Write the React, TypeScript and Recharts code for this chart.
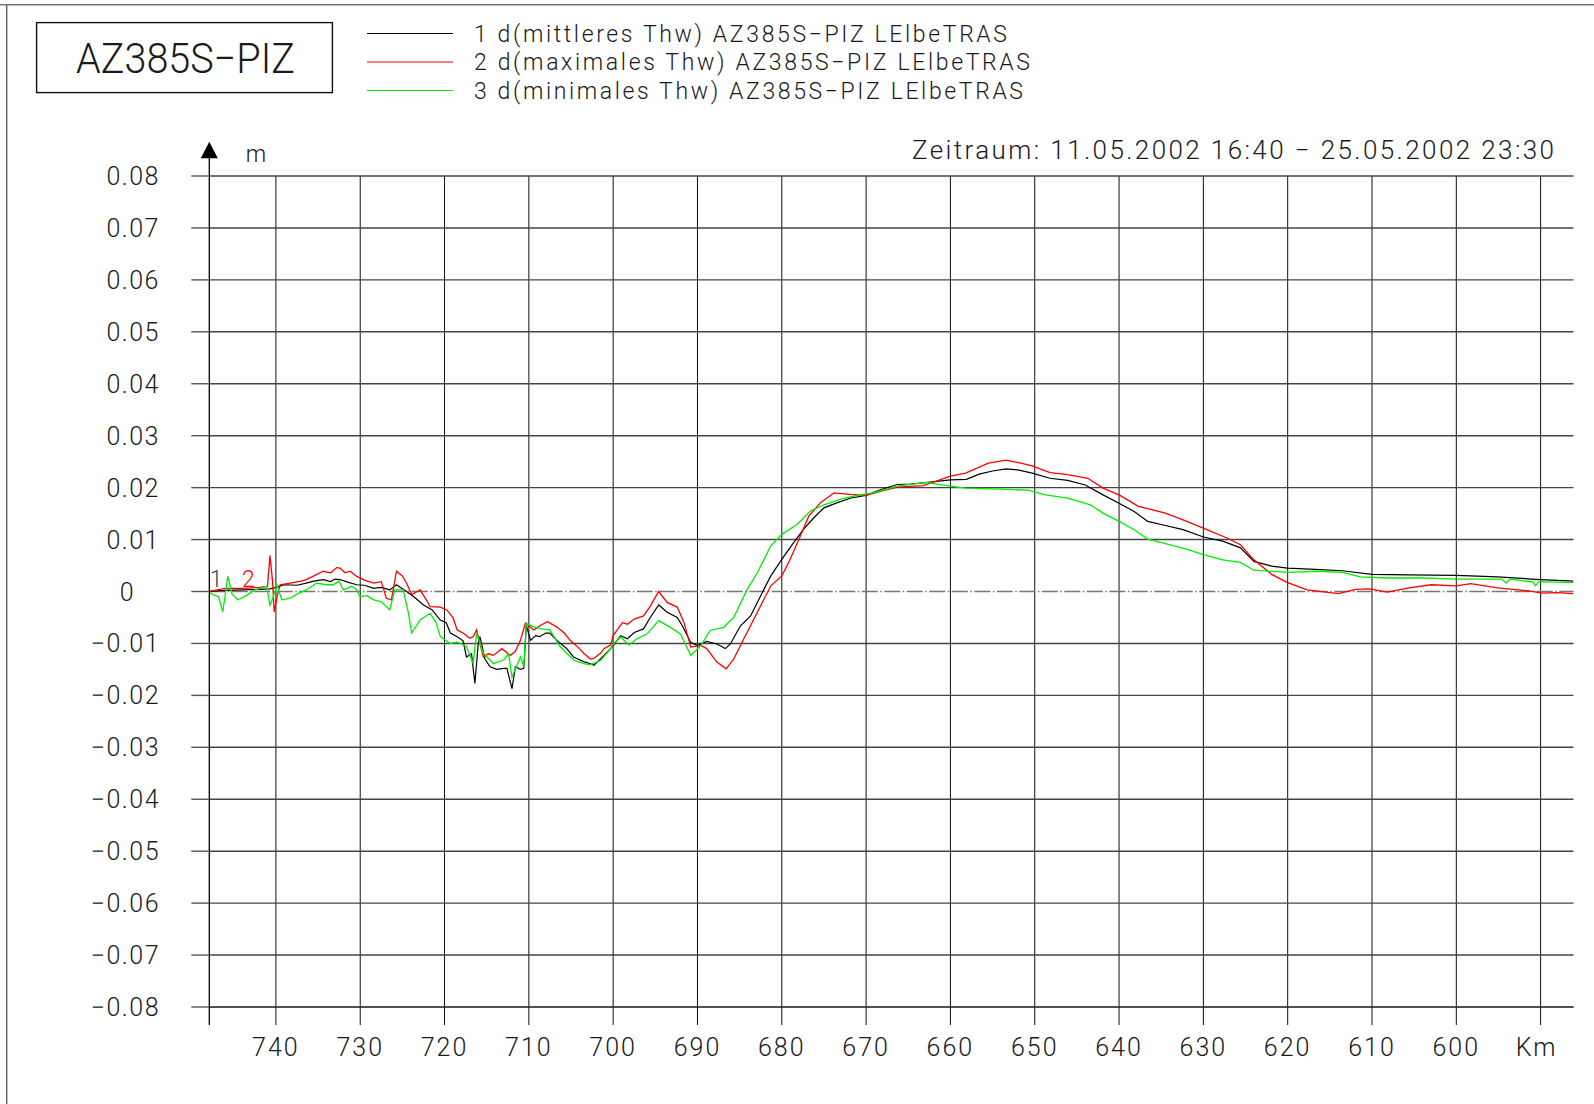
import React from "react";
import { LineChart, Line, XAxis, YAxis, CartesianGrid, ReferenceLine } from "recharts";

// ---- data (km along the Elbe, value in m) ----
const meanKm = [748.0,746.0,744.0,742.0,740.7,740.0,739.0,737.5,736.4,735.5,734.4,733.5,733.0,732.4,731.5,730.4,729.5,728.4,727.5,726.5,725.7,724.5,723.5,722.5,721.5,720.5,719.8,719.3,718.5,717.8,717.4,716.8,716.4,716.0,715.8,715.2,714.6,713.8,713.0,712.6,712.0,711.6,711.0,710.6,710.3,709.8,709.2,708.7,708.0,707.5,706.7,705.5,704.7,703.5,702.7,702.3,701.5,700.3,699.1,698.3,697.5,696.4,695.6,694.6,693.6,692.4,691.8,690.8,690.0,688.9,687.7,686.7,686.1,684.9,683.7,682.5,681.3,680.0,678.6,677.4,676.2,675.0,673.4,671.8,670.0,668.3,666.3,664.7,663.2,660.0,658.1,656.6,655.0,653.4,652.0,650.3,648.2,646.1,644.0,641.9,640.0,638.2,636.6,634.5,632.4,630.0,627.7,625.6,624.0,621.9,620.0,616.1,613.5,610.0,605.6,600.0,595.1,590.0,586.1];
const meanVal = [0,0.0002,0.0003,0.0004,0.0005,0.0008,0.0013,0.0012,0.0016,0.002,0.0023,0.0019,0.0024,0.0023,0.0018,0.0013,0.0012,0.0006,0.0008,0.0003,0.0013,0,-0.0012,-0.0026,-0.0035,-0.0055,-0.006,-0.008,-0.0087,-0.0095,-0.0126,-0.012,-0.0177,-0.01,-0.0087,-0.013,-0.0145,-0.015,-0.0148,-0.0148,-0.0187,-0.0145,-0.015,-0.0148,-0.0065,-0.0094,-0.0085,-0.0087,-0.008,-0.008,-0.0094,-0.011,-0.0126,-0.0135,-0.0139,-0.0142,-0.013,-0.011,-0.0085,-0.0091,-0.0079,-0.0072,-0.005,-0.0026,-0.004,-0.005,-0.0066,-0.0098,-0.0104,-0.0096,-0.0101,-0.011,-0.0101,-0.0066,-0.0047,-0.0008,0.003,0.0062,0.0094,0.012,0.0142,0.0161,0.0171,0.018,0.0185,0.0196,0.0206,0.0207,0.0209,0.0215,0.0216,0.0226,0.0232,0.0236,0.0234,0.0228,0.0218,0.0214,0.0205,0.0186,0.017,0.0154,0.0135,0.0127,0.0119,0.0105,0.0097,0.0084,0.0058,0.0049,0.0045,0.0042,0.004,0.0033,0.0032,0.0031,0.0028,0.0023,0.002];

const maxKm = [748.0,746.0,744.0,742.0,741.0,740.7,740.4,740.2,739.8,739.5,738.3,737.0,736.4,735.5,734.4,733.5,732.8,732.4,731.8,731.2,730.4,729.5,728.4,727.5,726.9,726.3,725.7,725.0,724.5,723.9,722.9,722.2,721.7,720.5,719.7,719.0,718.5,717.8,717.0,716.6,716.2,715.4,714.8,714.2,713.2,712.2,711.6,711.0,710.4,709.4,708.6,707.8,706.7,705.8,705.1,704.0,703.5,702.7,702.3,701.5,701.1,700.3,700.0,698.9,698.3,697.5,696.4,695.6,694.6,693.6,692.4,691.6,690.8,689.6,688.9,687.7,686.6,685.7,684.5,682.9,681.3,680.0,679.0,677.8,676.8,675.4,673.8,671.9,670.0,668.3,666.3,663.2,660.0,658.2,655.5,653.4,651.9,650.3,648.2,646.1,643.7,641.9,640.0,637.7,634.5,632.4,630.0,627.2,625.6,624.0,621.9,620.0,617.7,614.0,611.9,610.3,608.2,605.6,603.0,600.0,598.3,595.1,591.4,589.8,588.0,586.1];
const maxVal = [0,0.0006,0.0006,0.0008,0.001,0.0069,0.002,-0.0039,-0.0005,0.0013,0.0016,0.002,0.0023,0.003,0.0039,0.0036,0.0046,0.0045,0.0036,0.0039,0.0029,0.0022,0.0016,0.0019,-0.0013,-0.0016,0.0039,0.003,0.0016,-0.0006,0.0003,-0.0015,-0.0029,-0.003,-0.0036,-0.005,-0.0074,-0.008,-0.009,-0.0087,-0.0074,-0.0126,-0.012,-0.0123,-0.011,-0.0123,-0.0115,-0.0094,-0.0061,-0.0074,-0.0065,-0.0058,-0.0068,-0.008,-0.0094,-0.011,-0.0119,-0.013,-0.0129,-0.0119,-0.011,-0.0103,-0.0085,-0.006,-0.0063,-0.0053,-0.0047,-0.0028,0,-0.0021,-0.003,-0.006,-0.0107,-0.0104,-0.011,-0.0136,-0.0149,-0.013,-0.0091,-0.004,0.0011,0.003,0.0062,0.0107,0.0145,0.0171,0.019,0.0187,0.0185,0.0193,0.0201,0.0204,0.0222,0.0228,0.0247,0.0253,0.0248,0.0242,0.0229,0.0225,0.0218,0.0199,0.0186,0.0164,0.0151,0.0138,0.0122,0.0103,0.009,0.0061,0.0033,0.0017,0.0003,-0.0004,0.0004,0.0005,-0.0001,0.0007,0.0013,0.0011,0.0015,0.0007,0.0001,-0.0003,-0.0002,-0.0004];

const minKm = [748.0,747.5,746.8,746.3,745.7,745.2,744.5,743.5,742.5,741.1,740.7,740.3,739.9,739.3,738.3,737.5,736.4,735.2,734.0,733.2,732.5,732.0,731.0,730.4,730.0,729.2,728.4,727.5,726.5,725.9,724.9,724.3,723.9,723.3,722.9,721.7,721.0,720.5,719.3,718.5,717.4,716.6,716.2,715.4,714.2,713.0,712.4,712.0,711.0,710.6,710.3,709.4,708.5,707.5,706.3,704.7,703.5,702.7,701.5,700.3,700.0,699.1,698.1,697.2,696.0,694.6,693.2,692.0,690.8,689.6,688.5,686.9,685.7,684.1,682.9,681.3,680.0,678.2,676.6,675.0,673.0,671.1,669.1,666.3,662.9,660.0,658.2,654.0,650.8,648.7,646.1,643.4,641.9,640.0,638.2,636.6,634.5,631.9,630.0,627.7,625.6,624.0,620.0,616.6,613.5,611.4,608.2,604.0,600.0,594.6,594.1,593.6,590.9,590.6,590.2,586.1];
const minVal = [0,-0.0006,-0.001,-0.0039,0.0029,-0.0005,-0.0016,-0.0008,0.0003,0.001,-0.0026,-0.001,0.0013,-0.0016,-0.0013,-0.0005,0.0003,0.0016,0.0013,0.0013,0.002,0.0003,0.001,0.0003,-0.001,-0.0008,-0.0016,-0.002,-0.0035,0.0003,0.0003,-0.004,-0.008,-0.0065,-0.0055,-0.0042,-0.006,-0.0087,-0.01,-0.0097,-0.0106,-0.0139,-0.008,-0.0119,-0.0139,-0.0132,-0.012,-0.0165,-0.0126,-0.0145,-0.0061,-0.0068,-0.0072,-0.0074,-0.0106,-0.0132,-0.0139,-0.0141,-0.0133,-0.011,-0.0101,-0.0088,-0.0103,-0.0091,-0.0082,-0.0056,-0.0069,-0.0082,-0.0123,-0.0104,-0.0075,-0.0069,-0.005,0.0004,0.0036,0.0088,0.011,0.0129,0.0155,0.0167,0.0178,0.0185,0.019,0.0203,0.021,0.0203,0.0199,0.0197,0.0195,0.0186,0.018,0.0167,0.0151,0.0135,0.0119,0.0101,0.0092,0.0081,0.0071,0.0061,0.0056,0.0041,0.0037,0.0039,0.0037,0.0028,0.0026,0.0026,0.0024,0.0024,0.0016,0.0024,0.0018,0.0011,0.0019,0.0017];

const kmTicks = [740, 730, 720, 710, 700, 690, 680, 670, 660, 650, 640, 630, 620, 610, 600, 590];
const yTicks = [0.08, 0.07, 0.06, 0.05, 0.04, 0.03, 0.02, 0.01, 0, -0.01, -0.02, -0.03, -0.04, -0.05, -0.06, -0.07, -0.08];
const seriesNames = [
  "1 d(mittleres Thw) AZ385S\u2212PIZ LElbeTRAS",
  "2 d(maximales Thw) AZ385S\u2212PIZ LElbeTRAS",
  "3 d(minimales Thw) AZ385S\u2212PIZ LElbeTRAS",
];
const seriesColors = ["#000000", "#ff0000", "#00ee00"];
const titleText = "AZ385S\u2212PIZ";
const periodText = "Zeitraum: 11.05.2002 16:40 \u2212 25.05.2002 23:30";

const toRows = (km: number[], v: number[]) => km.map((k, i) => ({ km: k, v: v[i] }));
const meanData = toRows(meanKm, meanVal);
const maxData = toRows(maxKm, maxVal);
const minData = toRows(minKm, minVal);

// ---- layout ----
const W = 1594;
const H = 1104;
const PLOT_LEFT = 209.3;
const PLOT_RIGHT = 1573.5;
const PLOT_TOP = 176;
const PLOT_BOTTOM = 1007;
const YAXIS_W = 120;
const XAXIS_H = 60;
const FONT = "Roboto, 'Liberation Sans', Arial, sans-serif";
const FW = 300;
const TXT = "#1a1a1a";

const YTick = (props: any) => {
  const { x, y, payload } = props;
  const v = payload.value;
  const label = v === 0 ? "0" : (v < 0 ? "\u2212" : "") + Math.abs(v).toFixed(2);
  const tx = v === 0 ? x - 25 : x;
  return (
    <text x={tx} y={y} dy="0.36em" textAnchor="end" fontSize={25} fill={TXT} fontFamily={FONT} fontWeight={FW} letterSpacing={1.5}>
      {label}
    </text>
  );
};

const XTick = (props: any) => {
  const { x, y, payload } = props;
  const isLast = payload.value === 590;
  return (
    <text x={isLast ? x - 4 : x} y={y + 31} textAnchor="middle" fontSize={25} fill={TXT} fontFamily={FONT} fontWeight={FW} letterSpacing={2}>
      {isLast ? "Km" : String(payload.value)}
    </text>
  );
};

const startLabel = (txt: string, color: string, dx: number) => (props: any) => {
  const { x, y, index } = props;
  if (index !== 0) return null;
  return (
    <text x={x + dx} y={y - 5} textAnchor="middle" fontSize={23} fill={color} fontFamily={FONT} fontWeight={FW}>
      {txt}
    </text>
  );
};

export default function App() {
  const legendY = [33.5, 62, 90.5];
  const legendLen = [533, 556, 549];
  return (
    <div style={{ position: "absolute", left: 0, top: 0, width: W, height: H, background: "#fff" }}>
      <LineChart
        width={W}
        height={H}
        margin={{ top: PLOT_TOP, right: W - PLOT_RIGHT, bottom: H - PLOT_BOTTOM - XAXIS_H, left: PLOT_LEFT - YAXIS_W }}
        style={{ fontFamily: FONT }}
      >
        <CartesianGrid vertical={true} horizontal={false} verticalValues={kmTicks} stroke="#111" strokeWidth={1} />
        <CartesianGrid
          vertical={false}
          horizontal={true}
          horizontalValues={yTicks.filter((t) => t !== 0)}
          stroke="#444"
          strokeWidth={1.4}
        />
        <XAxis
          dataKey="km"
          type="number"
          domain={[586.1, 747.9]}
          reversed
          ticks={kmTicks}
          allowDataOverflow
          height={XAXIS_H}
          tickSize={18}
          tickMargin={0}
          tickLine={{ stroke: "#111", strokeWidth: 1 }}
          axisLine={{ stroke: "#444", strokeWidth: 1.4 }}
          tick={<XTick />}
          interval={0}
        />
        <YAxis
          type="number"
          domain={[-0.08, 0.08]}
          ticks={yTicks}
          allowDataOverflow
          width={YAXIS_W}
          tickSize={18}
          tickMargin={31.3}
          tickLine={{ stroke: "#555", strokeWidth: 1.4 }}
          axisLine={{ stroke: "#000", strokeWidth: 1.3 }}
          tick={<YTick />}
          interval={0}
        />
        <ReferenceLine y={0} stroke="#777" strokeWidth={1.4} strokeDasharray="16 2.5 1.5 2.5" />
        <Line
          data={meanData}
          dataKey="v"
          name={seriesNames[0]}
          stroke={seriesColors[0]}
          strokeWidth={1.2}
          dot={false}
          isAnimationActive={false}
          label={startLabel("1", "#444", 7.7)}
        />
        <Line
          data={maxData}
          dataKey="v"
          name={seriesNames[1]}
          stroke={seriesColors[1]}
          strokeWidth={1.3}
          dot={false}
          isAnimationActive={false}
          label={startLabel("2", "#ff0000", 40)}
        />
        <Line
          data={minData}
          dataKey="v"
          name={seriesNames[2]}
          stroke={seriesColors[2]}
          strokeWidth={1.3}
          dot={false}
          isAnimationActive={false}
        />
      </LineChart>
      <svg
        width={W}
        height={H}
        style={{ position: "absolute", left: 0, top: 0, pointerEvents: "none", fontFamily: FONT, fontWeight: FW }}
      >
        {/* page frame */}
        <line x1={0} y1={4.7} x2={W} y2={4.7} stroke="#777" strokeWidth={1.5} />
        <line x1={6.7} y1={4.7} x2={6.7} y2={H} stroke="#555" strokeWidth={1.3} />
        {/* title box */}
        <rect x={36.6} y={22.6} width={295.8} height={70} fill="none" stroke="#111" strokeWidth={1.4} />
        <text x={185.5} y={73} textAnchor="middle" fontSize={42} fill={TXT} textLength={219} lengthAdjust="spacingAndGlyphs">
          {titleText}
        </text>
        {/* legend */}
        {seriesNames.map((n, i) => (
          <g key={n}>
            <line x1={367} y1={legendY[i]} x2={453} y2={legendY[i]} stroke={seriesColors[i]} strokeWidth={1.2} />
            <text x={474} y={legendY[i] + 8.2} fontSize={23} fill={TXT} textLength={legendLen[i]} lengthAdjust="spacing">
              {n}
            </text>
          </g>
        ))}
        {/* period */}
        <text x={912} y={158.5} fontSize={26} fill={TXT} textLength={642} lengthAdjust="spacing">
          {periodText}
        </text>
        {/* y-axis arrow and extension */}
        <line x1={PLOT_LEFT} y1={157} x2={PLOT_LEFT} y2={PLOT_TOP} stroke="#000" strokeWidth={1.3} />
        <line x1={PLOT_LEFT} y1={PLOT_BOTTOM} x2={PLOT_LEFT} y2={PLOT_BOTTOM + 18} stroke="#000" strokeWidth={1.3} />
        <polygon points={`${PLOT_LEFT},141.7 ${PLOT_LEFT - 8.5},158.3 ${PLOT_LEFT + 8.5},158.3`} fill="#000" />
        <text x={256} y={161.7} textAnchor="middle" fontSize={23} fill={TXT}>
          m
        </text>
      </svg>
    </div>
  );
}
